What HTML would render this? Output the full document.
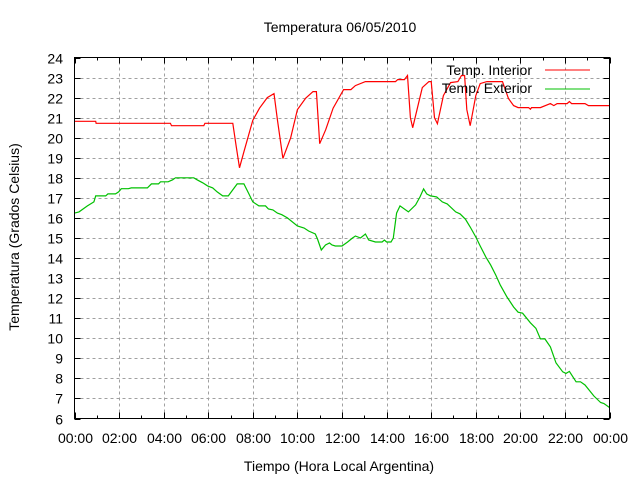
<!DOCTYPE html>
<html><head><meta charset="utf-8"><style>
html,body{margin:0;padding:0;background:#fff}
svg{display:block;font-family:"Liberation Sans",sans-serif}
</style></head><body>
<svg id="chart" width="640" height="480" viewBox="0 0 640 480" xmlns="http://www.w3.org/2000/svg">
<text x="340" y="32" font-size="14" text-anchor="middle">Temperatura 06/05/2010</text>
<text x="339" y="471" font-size="14" text-anchor="middle">Tiempo (Hora Local Argentina)</text>
<text x="0" y="0" font-size="14" text-anchor="middle" transform="translate(19,237) rotate(-90)">Temperatura (Grados Celsius)</text>
<g id="grid"></g>
<g id="ticks"></g>
<g id="series"></g>
<g>
<text x="532" y="75" font-size="14" text-anchor="end">Temp. Interior</text>
<line x1="545" y1="70" x2="590" y2="70" stroke="#ff0000" stroke-width="1"/>
<text x="532" y="93" font-size="14" text-anchor="end">Temp. Exterior</text>
<line x1="545" y1="89" x2="590" y2="89" stroke="#00c000" stroke-width="1"/>
</g>
<rect x="74.5" y="57.5" width="535" height="361" fill="none" stroke="#000" stroke-width="1"/>
</svg>
<script>
const yTicks = [6,7,8,9,10,11,12,13,14,15,16,17,18,19,20,21,22,23,24];
const xTicks = [0,2,4,6,8,10,12,14,16,18,20,22,24];
const xTickLabels = ["00:00","02:00","04:00","06:00","08:00","10:00","12:00","14:00","16:00","18:00","20:00","22:00","00:00"];
const interiorHours = [0,0.95,0.97,4.3,4.35,5.8,5.85,7.1,7.25,7.4,7.6,8.0,8.3,8.65,8.95,9.1,9.35,9.7,10.0,10.37,10.7,10.85,11.0,11.27,11.6,12.07,12.4,12.6,13.05,14.4,14.5,14.8,14.94,15.07,15.17,15.6,15.9,16.0,16.15,16.28,16.55,16.87,17.2,17.36,17.5,17.6,17.75,18.0,18.2,18.5,19.2,19.47,19.7,19.9,20.37,20.45,20.5,20.9,21.35,21.5,21.65,22.1,22.2,22.3,22.9,23.06,24];
const interiorTemps = [20.82,20.82,20.72,20.72,20.6,20.6,20.72,20.72,19.6,18.5,19.3,20.87,21.47,22.0,22.2,20.9,18.97,20.0,21.4,21.97,22.3,22.3,19.7,20.4,21.47,22.4,22.4,22.6,22.8,22.8,22.9,22.9,23.1,21.0,20.5,22.5,22.8,22.8,21.0,20.7,22.1,22.75,22.8,23.1,23.1,21.4,20.6,22.1,22.7,22.8,22.8,21.95,21.6,21.5,21.5,21.42,21.5,21.5,21.7,21.6,21.7,21.7,21.8,21.7,21.7,21.6,21.6];
const exteriorHours = [0,0.2,0.58,0.87,0.95,1.4,1.5,1.84,1.98,2.1,2.42,2.55,3.27,3.45,3.77,3.86,4.2,4.4,4.53,5.35,5.5,5.75,5.97,6.2,6.4,6.65,6.9,7.3,7.6,7.8,8.0,8.27,8.57,8.7,8.9,9.1,9.3,9.55,10.0,10.3,10.5,10.8,10.9,11.07,11.26,11.44,11.55,11.7,12.0,12.25,12.47,12.6,12.83,13.05,13.2,13.5,13.8,13.9,14.0,14.2,14.3,14.45,14.6,14.98,15.3,15.5,15.66,15.8,15.97,16.25,16.5,16.72,17.1,17.3,17.54,17.75,18.0,18.2,18.45,18.67,18.9,19.1,19.4,19.7,19.9,20.1,20.45,20.7,20.9,21.1,21.35,21.6,21.9,22.05,22.2,22.5,22.7,22.9,23.3,23.6,23.75,24];
const exteriorTemps = [16.24,16.3,16.6,16.8,17.1,17.1,17.2,17.2,17.3,17.46,17.46,17.5,17.5,17.7,17.7,17.8,17.8,17.9,18.0,18.0,17.9,17.75,17.6,17.5,17.3,17.1,17.1,17.7,17.7,17.25,16.8,16.6,16.6,16.45,16.4,16.24,16.16,16.0,15.6,15.5,15.35,15.2,14.95,14.4,14.65,14.75,14.65,14.6,14.6,14.8,15.0,15.1,15.0,15.2,14.9,14.8,14.8,14.9,14.8,14.8,15.0,16.24,16.6,16.3,16.65,17.05,17.45,17.2,17.1,17.05,16.8,16.7,16.3,16.2,15.93,15.55,15.05,14.6,14.06,13.65,13.15,12.65,12.06,11.56,11.3,11.25,10.77,10.5,9.97,9.97,9.57,8.77,8.33,8.25,8.35,7.83,7.83,7.67,7.12,6.8,6.75,6.55];

const NS="http://www.w3.org/2000/svg";
const X0=74.5,X1=609.5,Y0=418.5,Y1=57.5;
const xScale=h=>X0+(h/24)*(X1-X0);
const yScale=t=>Y0-((t-6)/18)*(Y0-Y1);
const grid=document.getElementById('grid'),ticks=document.getElementById('ticks'),series=document.getElementById('series');
function mk(tag,attrs,parent){const e=document.createElementNS(NS,tag);for(const k in attrs)e.setAttribute(k,attrs[k]);parent.appendChild(e);return e;}
yTicks.forEach((t,i)=>{
  const y=Math.round(yScale(t))+0.5;
  if(t>6&&t<24){
    const g=mk('line',{x1:X0,x2:X1,y1:y,y2:y,stroke:'#a0a0a0','stroke-dasharray':'3,3'},grid);
    
    
  }
  const a=mk('line',{x1:X0,x2:X0+6,y1:y,y2:y,stroke:'#000'},ticks);
  
  
  const b=mk('line',{x1:X1-6,x2:X1,y1:y,y2:y,stroke:'#000'},ticks);
  
  
  const tx=mk('text',{x:63,y:y+5,'font-size':14,'text-anchor':'end'},ticks);
  tx.textContent=t;
  
  
});
for(let h=1;h<24;h+=2){
  const x=Math.round(xScale(h))+0.5;
  const a=mk('line',{x1:x,x2:x,y1:Y0,y2:Y0-3,stroke:'#000'},ticks);
  
  
  const b=mk('line',{x1:x,x2:x,y1:Y1,y2:Y1+3,stroke:'#000'},ticks);
  
  
}
xTicks.forEach((h,i)=>{
  const x=Math.round(xScale(h))+0.5;
  if(h>0&&h<24){
    const g=mk('line',{x1:x,x2:x,y1:Y0,y2:Y1,stroke:'#a0a0a0','stroke-dasharray':'3,3'},grid);
    
    
  }
  const a=mk('line',{x1:x,x2:x,y1:Y0,y2:Y0-6,stroke:'#000'},ticks);
  
  
  const b=mk('line',{x1:x,x2:x,y1:Y1,y2:Y1+6,stroke:'#000'},ticks);
  
  
  const tx=mk('text',{x:x,y:443,'font-size':14,'text-anchor':'middle'},ticks);
  tx.textContent=xTickLabels[i];
  
  
});
function pts(hs,ts){return hs.map((h,i)=>xScale(h).toFixed(1)+','+yScale(ts[i]).toFixed(1)).join(' ');}
const pi=mk('polyline',{points:pts(interiorHours,interiorTemps),fill:'none',stroke:'#ff0000','stroke-width':1.2},series);


const pe=mk('polyline',{points:pts(exteriorHours,exteriorTemps),fill:'none',stroke:'#00c000','stroke-width':1.2},series);


</script>
</body></html>
